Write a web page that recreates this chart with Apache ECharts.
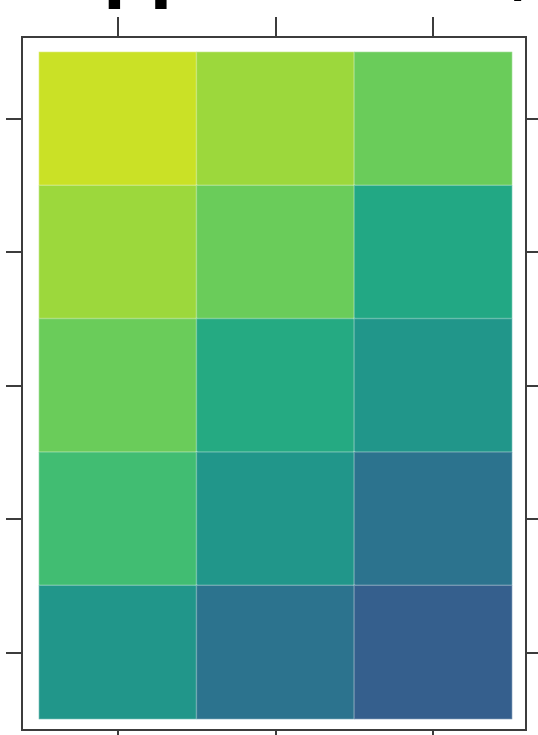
<!DOCTYPE html>
<html>
<head>
<meta charset="utf-8">
<script src="https://cdn.jsdelivr.net/npm/echarts@6/dist/echarts.min.js"></script>
<style>
  html, body { margin: 0; padding: 0; background: #ffffff; }
  #chart { width: 538px; height: 735px; }
</style>
</head>
<body>
<div id="chart"></div>
<script>
// Grid categories
const columns = ['C1', 'C2', 'C3'];
const rows = ['R1', 'R2', 'R3', 'R4', 'R5'];

// Cell values, one array per row (top to bottom)
const rowR1 = [92, 85, 77];
const rowR2 = [85, 77, 60];
const rowR3 = [77, 61, 52];
const rowR4 = [69, 52, 38];
const rowR5 = [52, 38, 30];

// Colour scale range
const scaleMin = 0;
const scaleMax = 100;

// Viridis colour stops
const viridis = ['#440154', '#482475', '#414487', '#355f8d', '#2a788e',
                 '#21918c', '#22a884', '#44bf70', '#7ad151', '#bddf26', '#fde725'];

const tableRows = [rowR1, rowR2, rowR3, rowR4, rowR5];
const cells = [];
tableRows.forEach((vals, r) => {
  vals.forEach((v, c) => cells.push([c, r, v]));
});

const frameColor = '#3c3c3c';
const tickStyle = { color: frameColor, width: 2 };

function catAxis(kind, data, position, offset, len) {
  return {
    type: 'category',
    gridIndex: 0,
    data: data,
    position: position,
    offset: offset,
    inverse: kind === 'y',
    axisLine: { show: false },
    axisTick: { show: true, alignWithLabel: true, inside: false, length: len, lineStyle: tickStyle },
    axisLabel: { show: false },
    splitLine: { show: false },
    splitArea: { show: false }
  };
}

const chart = echarts.init(document.getElementById('chart'), null, { renderer: 'canvas' });
chart.setOption({
  animation: false,
  backgroundColor: '#ffffff',
  title: [
    {
      text: 'Apple',
      left: 48,
      top: -59,
      textStyle: { fontSize: 65, fontWeight: 'bold', fontFamily: 'DejaVu Sans', color: '#000' }
    },
    {
      text: 'D/E',
      left: 455,
      top: -59,
      textStyle: { fontSize: 65, fontWeight: 'bold', fontFamily: 'DejaVu Sans', color: '#000' }
    }
  ],
  grid: [
    { left: 39, top: 52, width: 473, height: 667, containLabel: false },
    { left: 22, top: 37, width: 504, height: 693, show: true,
      borderColor: frameColor, borderWidth: 2, backgroundColor: 'transparent' }
  ],
  xAxis: [
    catAxis('x', columns, 'top', 15, 20),
    catAxis('x', columns, 'bottom', 11, 16),
    { type: 'value', gridIndex: 1, show: false }
  ],
  yAxis: [
    catAxis('y', rows, 'left', 17, 16),
    catAxis('y', rows, 'right', 14, 16),
    { type: 'value', gridIndex: 1, show: false }
  ],
  visualMap: {
    show: false,
    type: 'continuous',
    min: scaleMin,
    max: scaleMax,
    dimension: 2,
    seriesIndex: 0,
    inRange: { color: viridis }
  },
  series: [
    {
      type: 'heatmap',
      xAxisIndex: 0,
      yAxisIndex: 0,
      data: cells,
      label: { show: false },
      itemStyle: { borderColor: 'rgba(255,255,255,0.25)', borderWidth: 1.5 },
      emphasis: { disabled: true }
    }
  ]
});
</script>
</body>
</html>
